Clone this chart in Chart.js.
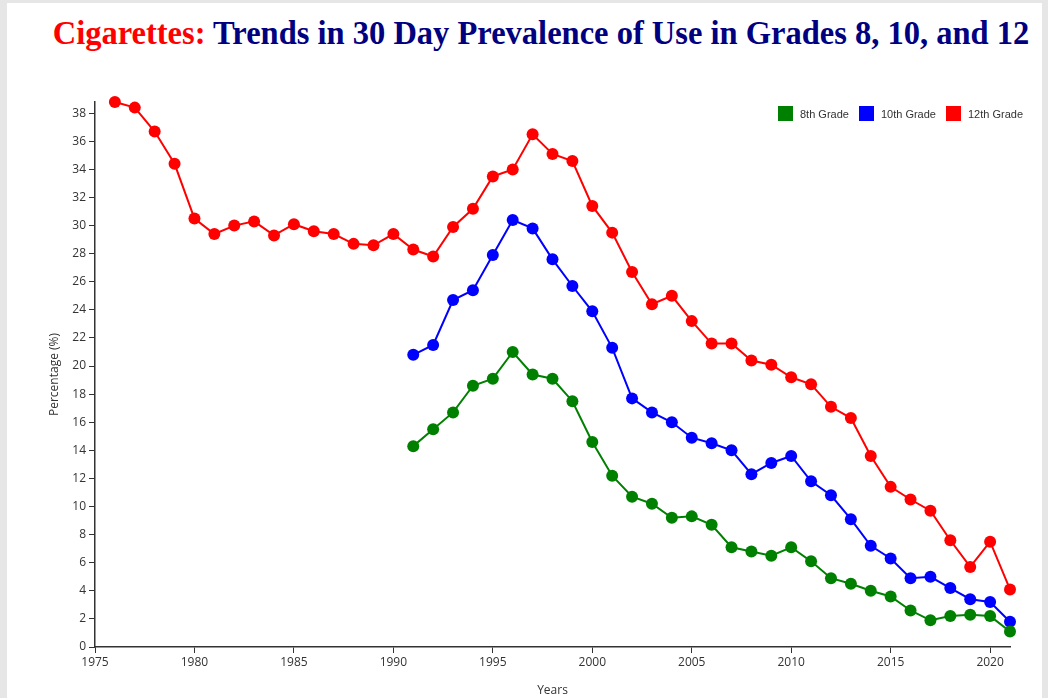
<!DOCTYPE html>
<html>
<head>
<meta charset="utf-8">
<script src="https://cdn.jsdelivr.net/npm/chart.js@4/dist/chart.umd.min.js"></script>
<style>
    html, body { margin: 0; padding: 0; }
    body { width: 1048px; height: 698px; background: #e6e6e6; position: relative; overflow: hidden; }
    #panel { position: absolute; left: 7px; top: 3px; right: 6px; bottom: 0; background: #fff; }
    #title {
        position: absolute; left: 0; top: 15px; width: 1082px; text-align: center;
        font-family: 'Liberation Serif', 'Times New Roman', serif; font-weight: bold; font-size: 33px;
        color: #000080; white-space: nowrap; transform: scaleX(0.985); transform-origin: 541px 0;
    }
    #title span { color: #ff0000; }
    #legend {
        position: absolute; left: 778px; top: 106px; display: flex; align-items: center;
        font-family: 'Liberation Sans', Arial, sans-serif; font-size: 11px; color: #333;
    }
    #legend .item { display: flex; align-items: center; margin-right: 10px; }
    #legend .box { width: 15px; height: 15px; margin-right: 7px; }
    #wrap { position: absolute; left: 0; top: 0; width: 1048px; height: 698px; }
</style>
</head>
<body>
<div id="panel"></div>
<div id="title"><span>Cigarettes:</span> Trends in 30 Day Prevalence of Use in Grades 8, 10, and 12</div>
<div id="wrap"><canvas id="chart"></canvas></div>
<div id="legend"></div>
<script>
const YEARS = [1976, 1977, 1978, 1979, 1980, 1981, 1982, 1983, 1984, 1985,
    1986, 1987, 1988, 1989, 1990, 1991, 1992, 1993, 1994, 1995,
    1996, 1997, 1998, 1999, 2000, 2001, 2002, 2003, 2004, 2005,
    2006, 2007, 2008, 2009, 2010, 2011, 2012, 2013, 2014, 2015,
    2016, 2017, 2018, 2019, 2020, 2021];

const GRADE_8 = [null, null, null, null, null, null, null, null, null, null,
    null, null, null, null, null, 14.3, 15.5, 16.7, 18.6, 19.1,
    21.0, 19.4, 19.1, 17.5, 14.6, 12.2, 10.7, 10.2, 9.2, 9.3,
    8.7, 7.1, 6.8, 6.5, 7.1, 6.1, 4.9, 4.5, 4.0, 3.6,
    2.6, 1.9, 2.2, 2.3, 2.2, 1.1];

const GRADE_10 = [null, null, null, null, null, null, null, null, null, null,
    null, null, null, null, null, 20.8, 21.5, 24.7, 25.4, 27.9,
    30.4, 29.8, 27.6, 25.7, 23.9, 21.3, 17.7, 16.7, 16.0, 14.9,
    14.5, 14.0, 12.3, 13.1, 13.6, 11.8, 10.8, 9.1, 7.2, 6.3,
    4.9, 5.0, 4.2, 3.4, 3.2, 1.8];

const GRADE_12 = [38.8, 38.4, 36.7, 34.4, 30.5, 29.4, 30.0, 30.3, 29.3, 30.1,
    29.6, 29.4, 28.7, 28.6, 29.4, 28.3, 27.8, 29.9, 31.2, 33.5,
    34.0, 36.5, 35.1, 34.6, 31.4, 29.5, 26.7, 24.4, 25.0, 23.2,
    21.6, 21.6, 20.4, 20.1, 19.2, 18.7, 17.1, 16.3, 13.6, 11.4,
    10.5, 9.7, 7.6, 5.7, 7.5, 4.1];

const SERIES = ['8th Grade', '10th Grade', '12th Grade'];
const COLORS = ['#008000', '#0000ff', '#ff0000'];
const VALUES = [GRADE_8, GRADE_10, GRADE_12];

const X_MIN = 1975;
const X_MAX = 2021;
const Y_MAX = 38.8;

const TICK_FONT = { family: 'Open Sans', size: 12 };

initChart();
initLegend();

function initChart() {
    let datasets = SERIES.map((label, idx) => ({
        label: label,
        data: YEARS.map((year, i) => ({ x: year, y: VALUES[idx][i] })),
        borderColor: COLORS[idx],
        backgroundColor: COLORS[idx],
        borderWidth: 2,
        pointRadius: 6,
        pointHoverRadius: 6,
        pointBorderWidth: 0,
        tension: 0,
        clip: false
    }));

    let ctx = document.getElementById('chart').getContext('2d');

    new Chart(ctx, {
        type: 'line',
        data: { datasets: datasets },
        options: {
            responsive: true,
            maintainAspectRatio: false,
            animation: false,
            layout: {
                padding: { left: 47, top: 102, right: 38, bottom: 0 }
            },
            scales: {
                x: {
                    type: 'linear',
                    min: X_MIN,
                    max: X_MAX,
                    afterFit: scale => { scale.height = 51; },
                    ticks: {
                        stepSize: 5,
                        includeBounds: false,
                        autoSkip: false,
                        maxRotation: 0,
                        padding: 2,
                        color: '#333',
                        font: TICK_FONT,
                        callback: value => String(value)
                    },
                    grid: {
                        drawOnChartArea: false,
                        drawTicks: true,
                        tickLength: 6,
                        color: '#333'
                    },
                    border: { color: '#333', width: 1.5 },
                    title: {
                        display: true,
                        text: 'Years',
                        color: '#333',
                        font: TICK_FONT,
                        padding: { top: 0, bottom: 0 }
                    }
                },
                y: {
                    min: 0,
                    max: Y_MAX,
                    afterFit: scale => { scale.width = 48; },
                    ticks: {
                        stepSize: 2,
                        includeBounds: false,
                        padding: 3,
                        color: '#333',
                        font: TICK_FONT
                    },
                    grid: {
                        drawOnChartArea: false,
                        drawTicks: true,
                        tickLength: 6,
                        color: '#333'
                    },
                    border: { color: '#333', width: 1.5 },
                    title: {
                        display: true,
                        text: 'Percentage (%)',
                        color: '#333',
                        font: TICK_FONT,
                        padding: { top: 0, bottom: 0 }
                    }
                }
            },
            plugins: {
                legend: false,
                title: false,
                tooltip: false
            }
        }
    });
}

function initLegend() {
    let div = document.getElementById('legend');

    div.innerHTML = SERIES.map((label, idx) => `
        <div class="item">
            <div class="box" style="background: ${COLORS[idx]}"></div>
            <span>${label}</span>
        </div>
    `).join('');
}
</script>
</body>
</html>
